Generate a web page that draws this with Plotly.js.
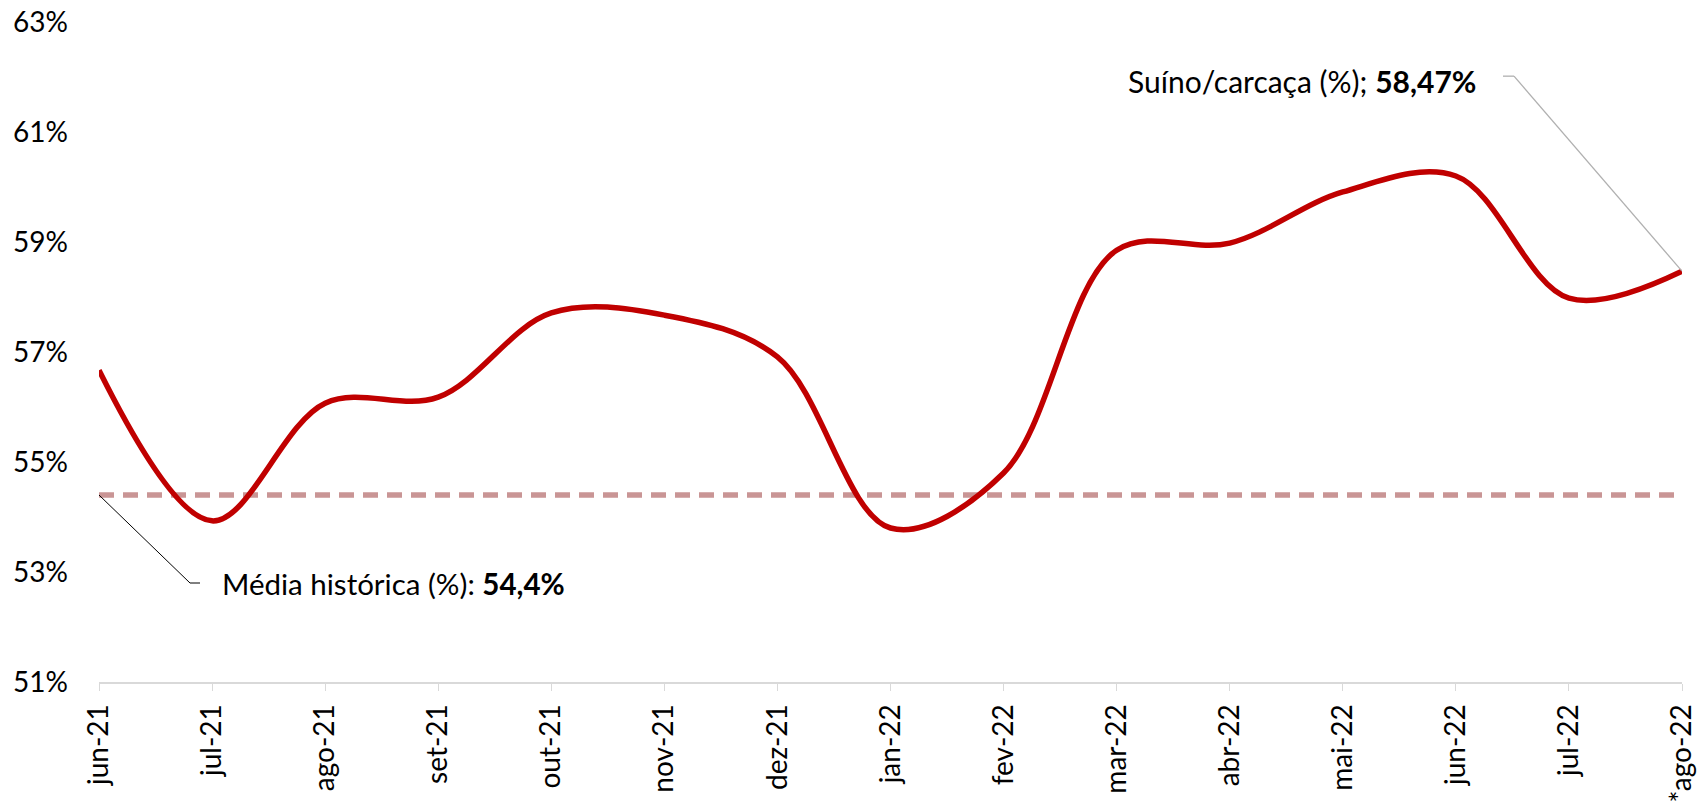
<!DOCTYPE html>
<html>
<head>
<meta charset="utf-8">
<script src="https://cdn.plot.ly/plotly-3.0.1.min.js"></script>
<style>
  html, body { margin: 0; padding: 0; background: #fff; }
  #chart { width: 1698px; height: 805px; }
</style>
</head>
<body>
<div id="chart"></div>
<script>
// Suíno/carcaça (%) - jun-21 a ago-22
const meses = ["jun-21", "jul-21", "ago-21", "set-21", "out-21", "nov-21", "dez-21",
    "jan-22", "fev-22", "mar-22", "abr-22", "mai-22", "jun-22", "jul-22", "*ago-22"];
const suinoCarcaca = [56.67, 53.93, 56.07, 56.18, 57.71, 57.67, 56.91,
    53.80, 54.80, 58.85, 58.98, 59.91, 60.20, 57.98, 58.47];
const mediaHistorica = 54.4;
const yTicks = [51, 53, 55, 57, 59, 61, 63];

const FONT = "Lato, 'Open Sans', sans-serif";
const last = meses.length - 1;

const traces = [
    {
        x: meses,
        y: meses.map(() => mediaHistorica),
        mode: "lines",
        line: { color: "#c99595", width: 5.5, dash: "15px,9px" },
        hoverinfo: "skip"
    },
    {
        x: meses,
        y: suinoCarcaca,
        mode: "lines",
        line: { color: "#c00000", width: 5.5, shape: "spline", smoothing: 1 },
        hoverinfo: "skip"
    }
];

const layout = {
    width: 1698,
    height: 805,
    margin: { l: 99, r: 16, t: 22, b: 123 },
    paper_bgcolor: "#fff",
    plot_bgcolor: "#fff",
    showlegend: false,
    font: { family: FONT, size: 28, color: "#000" },
    xaxis: {
        type: "category",
        range: [0, last],
        showgrid: false,
        zeroline: false,
        showline: true,
        linecolor: "#d9d9d9",
        linewidth: 2,
        ticks: "outside",
        ticklen: 7,
        tickwidth: 1,
        tickcolor: "#d9d9d9",
        tickangle: -90,
        ticklabelstandoff: 2,
        tickfont: { family: FONT, size: 28, color: "#000" }
    },
    yaxis: {
        range: [51, 63],
        tickvals: yTicks,
        ticktext: yTicks.map(v => v + "%"),
        showgrid: false,
        zeroline: false,
        showline: false,
        ticks: "",
        ticklabelstandoff: 30,
        tickfont: { family: FONT, size: 28, color: "#000" }
    },
    shapes: [
        // leader for último ponto
        {
            type: "line", xref: "x", yref: "y",
            xsizemode: "pixel", ysizemode: "pixel",
            xanchor: last, yanchor: suinoCarcaca[last],
            x0: 0, y0: 0, x1: -168, y1: 195,
            line: { color: "#b0b0b0", width: 1.3 }
        },
        {
            type: "line", xref: "x", yref: "y",
            xsizemode: "pixel", ysizemode: "pixel",
            xanchor: last, yanchor: suinoCarcaca[last],
            x0: -168, y0: 195, x1: -179, y1: 195,
            line: { color: "#b0b0b0", width: 1.3 }
        },
        // leader para média histórica
        {
            type: "line", xref: "x", yref: "y",
            xsizemode: "pixel", ysizemode: "pixel",
            xanchor: 0, yanchor: mediaHistorica,
            x0: 0, y0: 0, x1: 91, y1: -88,
            line: { color: "#000", width: 1 }
        },
        {
            type: "line", xref: "x", yref: "y",
            xsizemode: "pixel", ysizemode: "pixel",
            xanchor: 0, yanchor: mediaHistorica,
            x0: 91, y0: -88, x1: 101, y1: -88,
            line: { color: "#000", width: 1 }
        }
    ],
    annotations: [
        {
            x: last, y: suinoCarcaca[last], xref: "x", yref: "y",
            text: "Suíno/carcaça (%); <b>" + suinoCarcaca[last].toFixed(2).replace(".", ",") + "%</b>",
            showarrow: false,
            xanchor: "right", yanchor: "middle",
            xshift: -204, yshift: 190,
            font: { family: FONT, size: 30, color: "#000" }
        },
        {
            x: 0, y: mediaHistorica, xref: "x", yref: "y",
            text: "Média histórica (%): <b>" + mediaHistorica.toFixed(1).replace(".", ",") + "%</b>",
            showarrow: false,
            xanchor: "left", yanchor: "middle",
            xshift: 121, yshift: -88,
            font: { family: FONT, size: 29.5, color: "#000" }
        }
    ]
};

Plotly.newPlot("chart", traces, layout, { displayModeBar: false, staticPlot: true });
</script>
</body>
</html>
